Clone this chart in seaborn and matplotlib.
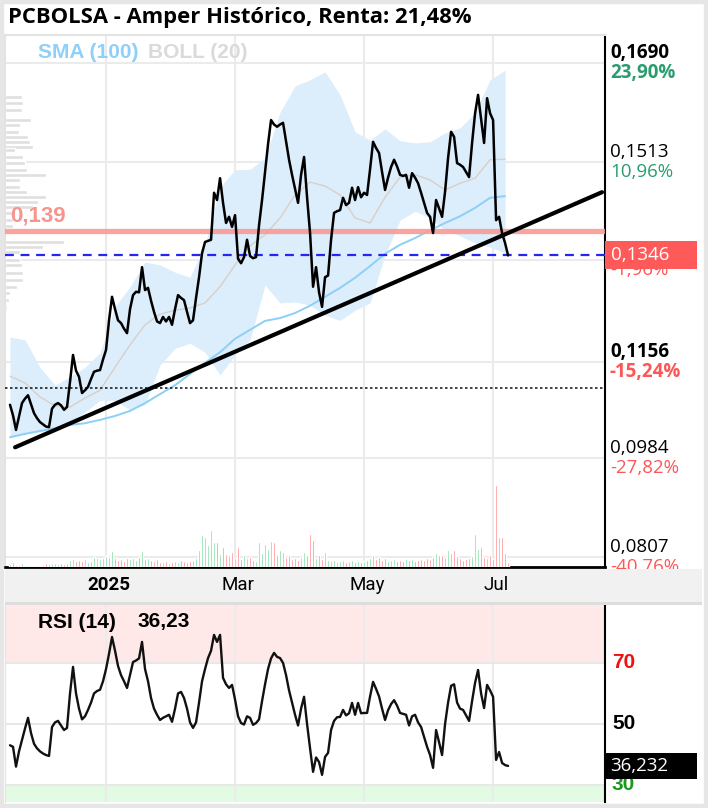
import numpy as np
import pandas as pd
import matplotlib
matplotlib.use("Agg")
import matplotlib.pyplot as plt
import seaborn as sns
from matplotlib.patches import Rectangle
from matplotlib.transforms import blended_transform_factory
from matplotlib import font_manager as fm

# Daily close, one value per session starting 18 Nov 2024
price = [
    0.1079, 0.1060, 0.1034, 0.1058, 0.1082, 0.1090, 0.1096, 0.1080, 0.1064, 0.1055,
    0.1048, 0.1044, 0.1040, 0.1039, 0.1072, 0.1079, 0.1082, 0.1078, 0.1070, 0.1075,
    0.1120, 0.1168, 0.1140, 0.1129, 0.1100, 0.1105, 0.1111, 0.1125, 0.1138, 0.1140,
    0.1141, 0.1160, 0.1177, 0.1230, 0.1272, 0.1250, 0.1230, 0.1225, 0.1215, 0.1207,
    0.1250, 0.1275, 0.1281, 0.1280, 0.1325, 0.1284, 0.1288, 0.1265, 0.1245, 0.1228,
    0.1225, 0.1236, 0.1228, 0.1236, 0.1222, 0.1250, 0.1275, 0.1270, 0.1266, 0.1245,
    0.1225, 0.1230, 0.1270, 0.1307, 0.1350, 0.1370, 0.1372, 0.1374, 0.1458, 0.1445,
    0.1484, 0.1440, 0.1404, 0.1415, 0.1397, 0.1418, 0.1340, 0.1332, 0.1343, 0.1374,
    0.1345, 0.1341, 0.1343, 0.1400, 0.1445, 0.1495, 0.1545, 0.1588, 0.1580, 0.1576,
    0.1580, 0.1583, 0.1550, 0.1517, 0.1490, 0.1465, 0.1440, 0.1490, 0.1522, 0.1450,
    0.1386, 0.1290, 0.1325, 0.1280, 0.1254, 0.1307, 0.1310, 0.1374, 0.1422, 0.1425,
    0.1427, 0.1449, 0.1436, 0.1440, 0.1467, 0.1445, 0.1468, 0.1450, 0.1458, 0.1454,
    0.1500, 0.1549, 0.1538, 0.1529, 0.1495, 0.1463, 0.1485, 0.1504, 0.1517, 0.1505,
    0.1490, 0.1488, 0.1490, 0.1467, 0.1493, 0.1485, 0.1475, 0.1458, 0.1440, 0.1422,
    0.1415, 0.1386, 0.1445, 0.1430, 0.1415, 0.1460, 0.1520, 0.1567, 0.1558, 0.1511,
    0.1508, 0.1504, 0.1495, 0.1486, 0.1547, 0.1600, 0.1633, 0.1590, 0.1547, 0.1627,
    0.1600, 0.1588, 0.1409, 0.1415, 0.1386, 0.1368, 0.1346,
]

rsi = [
    43.0, 42.5, 36.0, 41.0, 44.8, 48.5, 52.0, 47.0, 43.5, 42.0,
    41.0, 40.3, 39.8, 39.5, 49.0, 50.5, 51.0, 49.5, 48.0, 48.7,
    60.0, 68.7, 60.0, 55.0, 51.5, 52.5, 54.6, 57.0, 60.0, 60.8,
    61.2, 64.0, 68.0, 73.0, 78.5, 74.0, 69.0, 66.0, 64.0, 61.8,
    66.0, 70.3, 70.8, 71.5, 76.9, 68.0, 64.0, 58.5, 55.0, 53.0,
    51.3, 52.0, 52.5, 53.0, 50.7, 55.0, 60.0, 60.5, 58.5, 55.0,
    50.5, 48.7, 50.5, 57.0, 64.0, 68.0, 71.6, 74.0, 79.2, 76.9,
    79.2, 65.1, 63.0, 61.8, 62.8, 58.0, 52.5, 50.3, 49.8, 52.5,
    52.0, 49.7, 50.3, 51.5, 57.5, 63.0, 68.0, 71.5, 73.3, 72.0,
    71.6, 70.0, 66.0, 61.0, 57.0, 53.0, 49.5, 55.0, 58.9, 50.0,
    42.0, 34.3, 39.0, 37.5, 33.3, 39.2, 40.5, 48.0, 51.0, 52.2,
    52.3, 54.6, 52.8, 53.5, 56.9, 53.0, 56.9, 53.5, 53.6, 53.6,
    59.0, 63.8, 61.5, 59.0, 55.0, 51.3, 54.5, 56.5, 57.8, 56.0,
    53.6, 53.3, 53.0, 49.5, 52.5, 53.0, 50.5, 49.0, 45.8, 42.5,
    39.8, 35.6, 48.0, 44.0, 39.8, 50.0, 57.0, 62.5, 63.0, 57.0,
    55.0, 54.6, 52.8, 51.0, 57.5, 63.5, 67.7, 60.0, 55.2, 62.8,
    61.0, 58.9, 38.2, 40.8, 37.2, 36.5, 36.23,
]

volume = [
    3, 5, 2, 2, 4, 2, 2, 1, 1, 1,
    1, 2, 4, 3, 4, 4, 3, 4, 3, 4,
    7, 8, 6, 7, 6, 8, 5, 6, 10, 9,
    8, 9, 11, 10, 16, 9, 7, 8, 6, 9,
    8, 9, 7, 10, 16, 8, 9, 7, 6, 8,
    5, 5, 6, 4, 5, 6, 5, 7, 6, 5,
    6, 7, 9, 17, 32, 30, 22, 37, 25, 25,
    13, 20, 13, 12, 15, 9, 20, 8, 12, 9,
    10, 7, 6, 25, 14, 23, 18, 26, 25, 12,
    17, 15, 10, 12, 8, 9, 7, 10, 15, 12,
    33, 27, 9, 12, 8, 15, 7, 6, 7, 5,
    6, 7, 5, 6, 7, 5, 6, 5, 6, 7,
    9, 12, 8, 10, 7, 9, 6, 7, 8, 6,
    7, 6, 8, 7, 8, 6, 7, 8, 7, 9,
    8, 10, 14, 12, 12, 10, 17, 14, 17, 11,
    9, 7, 8, 9, 11, 33, 18, 20, 10, 9,
    12, 8, 82, 30, 30, 14, 5,
]

# indicators read every 5 sessions
ind_step = 5
sma100 = [0.1021, 0.1027, 0.1032, 0.1037, 0.1043, 0.1046, 0.1052, 0.1059, 0.1068, 0.1082,
          0.1098, 0.1114, 0.1134, 0.1154, 0.1173, 0.1197, 0.1213, 0.1229, 0.1234, 0.1243,
          0.1256, 0.1272, 0.1288, 0.1306, 0.1327, 0.1349, 0.1365, 0.1377, 0.1391, 0.1404,
          0.1416, 0.1431, 0.1449, 0.1452]
boll_up = [0.1200, 0.1195, 0.1146, 0.1114, 0.1129, 0.1146, 0.1172, 0.1254, 0.1290, 0.1334,
           0.1329, 0.1316, 0.1307, 0.1365, 0.1468, 0.1499, 0.1500, 0.1520, 0.1602, 0.1649,
           0.1660, 0.1674, 0.1633, 0.1567, 0.1552, 0.1572, 0.1551, 0.1547, 0.1549, 0.1565,
           0.1574, 0.1601, 0.1660, 0.1677]
boll_mid = [0.1130, 0.1118, 0.1093, 0.1077, 0.1075, 0.1091, 0.1105, 0.1146, 0.1186, 0.1222,
            0.1241, 0.1248, 0.1252, 0.1261, 0.1290, 0.1329, 0.1363, 0.1383, 0.1413, 0.1454,
            0.1477, 0.1470, 0.1454, 0.1413, 0.1404, 0.1450, 0.1486, 0.1490, 0.1481, 0.1463,
            0.1475, 0.1484, 0.1517, 0.1518]
boll_low = [0.1020, 0.1027, 0.1034, 0.1039, 0.1048, 0.1066, 0.1087, 0.1087, 0.1070, 0.1079,
            0.1150, 0.1180, 0.1189, 0.1173, 0.1132, 0.1168, 0.1195, 0.1293, 0.1261, 0.1263,
            0.1257, 0.1239, 0.1230, 0.1248, 0.1261, 0.1347, 0.1409, 0.1425, 0.1413, 0.1391,
            0.1381, 0.1368, 0.1361, 0.1350]

# volume profile on the left edge
vp_price = [0.1629, 0.1618, 0.1606, 0.1588, 0.1579, 0.1567, 0.1558, 0.1549, 0.1540, 0.1534,
            0.1522, 0.1511, 0.1499, 0.1490, 0.1481, 0.1468, 0.1459, 0.1450, 0.1441, 0.1433,
            0.1422, 0.1409, 0.1399, 0.1370, 0.1361, 0.1352, 0.1338, 0.1329, 0.1315, 0.1302,
            0.1289, 0.1279, 0.1266, 0.1254]
vp_vol = [17, 18, 17, 26, 15, 14, 23, 25, 28, 10, 18, 20, 22, 41, 15, 15, 22, 41, 33, 28,
          8, 8, 8, 59, 38, 15, 15, 17, 18, 18, 12, 5, 4, 2]

# trend line (session index, price) and horizontal levels
trend_x = [1.7, 197.3]
trend_y = [0.1003, 0.1459]
resist = 0.139
support = 0.1109
last_price = 0.1346
last_rsi = 36.232

levels = [0.1690, 0.1513, 0.1337, 0.1156, 0.0984, 0.0807]
level_labels = ["0,1690", "0,1513", "0,1337", "0,1156", "0,0984", "0,0807"]
level_pcts = ["23,90%", "10,96%", "-1,96%", "-15,24%", "-27,82%", "-40,76%"]
level_bold = [True, False, False, True, False, False]
month_labels = ["2025", "Mar", "May", "Jul"]
title = "PCBOLSA - Amper Histórico, Renta: 21,48%"


def has_bold(fam):
    try:
        path = fm.findfont(fm.FontProperties(family=fam, weight='bold'), fallback_to_default=False)
    except Exception:
        return False
    return 'bold' in path.lower()


sans = next((f for f in ['Noto Sans', 'Open Sans', 'Roboto', 'Lato'] if has_bold(f)), 'DejaVu Sans')
arial = 'Liberation Sans'

sns.set_style("white")
plt.rcParams['font.family'] = [sans, 'DejaVu Sans']
plt.rcParams['text.color'] = 'black'

n = len(price)
x = np.arange(n)
dates = pd.bdate_range("2024-11-18", periods=n)
tick_pos = [i for i in range(1, n)
            if dates[i].month != dates[i - 1].month and dates[i].month in (1, 3, 5, 7)]
ind_x = np.arange(0, n, ind_step)

W, H = 708, 808
fig = plt.figure(figsize=(W / 100, H / 100), dpi=100)
fig.patch.set_facecolor('white')
ax = fig.add_axes([5 / W, 1 - 567 / H, 600 / W, 532 / H])
ax_rsi = fig.add_axes([5 / W, 1 - 802 / H, 600 / W, 197 / H])

xlim = (-1.67, 198.3)
ylim = (0.0789, 0.1740)
ax.set_xlim(xlim)
ax.set_ylim(ylim)
px = (ylim[1] - ylim[0]) / 532

# grid
for p in tick_pos:
    ax.axvline(p, color='#ebebeb', lw=1.5, zorder=0)
for lv in levels:
    ax.axhline(lv, color='#ebebeb', lw=1.5, zorder=0)

# bollinger + sma
ax.fill_between(ind_x, boll_low, boll_up, color='#dcedfb', lw=0, zorder=1)
sns.lineplot(x=ind_x, y=boll_mid, ax=ax, color='#d8cfc9', lw=1.0, zorder=2)
sns.lineplot(x=ind_x, y=sma100, ax=ax, color='#8dcff7', lw=1.4, zorder=2)

# volume profile
ax.barh(vp_price, np.array(vp_vol) / 3, height=0.0007, left=xlim[0],
        color='#dfdfdf', zorder=1.5)

# levels
ax.axhline(resist, color='#f89b95', lw=3.8, alpha=0.9, zorder=3)
ax.axhline(last_price, color='#2626f0', lw=1.6, ls=(0, (4, 3)), zorder=3)
ax.axhline(support, color='#222222', lw=1.2, ls=(0, (1.5, 1.5)), zorder=3)
ax.annotate("0,139", xy=(0, resist), xycoords=ax.get_yaxis_transform(),
            xytext=(4, 3), textcoords='offset points', va='bottom', ha='left',
            color='#f7948d', fontsize=16, fontweight='bold', family=arial, zorder=4)

# price and trend
sns.lineplot(x=x, y=price, ax=ax, color='black', lw=1.8, zorder=4)
sns.lineplot(x=trend_x, y=trend_y, ax=ax, color='black', lw=3, zorder=5)

# volume bars
axv = ax.twinx()
vol_colors = ['#6fdc96' if i == 0 or price[i] >= price[i - 1] else '#ff7d7d' for i in range(n)]
axv.bar(x, volume, width=0.8, color=vol_colors)
axv.set_ylim(0, max(volume) * 532 / 82)
axv.set_xlim(xlim)
axv.axis('off')

# axes styling
ax.set_xlabel('')
ax.set_ylabel('')
ax.set_yticks([])
ax.set_xticks([])
for s in ['top', 'left']:
    ax.spines[s].set_color('#e3e3e3')
    ax.spines[s].set_linewidth(1.5)
ax.spines['right'].set_color('black')
ax.spines['right'].set_linewidth(1.5)
ax.spines['bottom'].set_color('black')
ax.spines['bottom'].set_linewidth(2)

# right price scale
ytr = ax.get_yaxis_transform()
for lv, lab, pct, b in zip(levels, level_labels, level_pcts, level_bold):
    w = 'bold' if b else 'normal'
    ax.annotate(lab, xy=(1, lv), xycoords=ytr, xytext=(3.6, 7.2), textcoords='offset points',
                ha='left', va='center', fontsize=13.5, fontweight=w, color='black',
                annotation_clip=False)
    ax.annotate(pct, xy=(1, lv), xycoords=ytr, xytext=(3.6, -7.2), textcoords='offset points',
                ha='left', va='center', fontsize=13.5, fontweight=w,
                color='#2a9d6f' if not pct.startswith('-') else '#ff5555',
                annotation_clip=False)
ax.add_patch(Rectangle((1.0, last_price - 14 * px), 92 / 600, 28 * px, transform=ytr,
                       facecolor='#ff5a5a', edgecolor='none', clip_on=False, zorder=6))
ax.annotate(f"{last_price:.4f}".replace('.', ','), xy=(1, last_price), xycoords=ytr,
            xytext=(4, 0), textcoords='offset points', ha='left', va='center',
            fontsize=13.5, color='white', annotation_clip=False, zorder=7)

# RSI panel
rlim = (24.4, 89)
ax_rsi.set_xlim(xlim)
ax_rsi.set_ylim(rlim)
rpx = (rlim[1] - rlim[0]) / 197
ax_rsi.axhspan(70, rlim[1], color='#ffe8e8', lw=0, zorder=0)
ax_rsi.axhspan(rlim[0], 30, color='#e2fbe2', lw=0, zorder=0)
for p in tick_pos:
    ax_rsi.axvline(p, color='#ebebeb', lw=1.5, zorder=0.5)
for lv in [70, 50, 30]:
    ax_rsi.axhline(lv, color='#e8e8e8', lw=1.5, zorder=0.5)
sns.lineplot(x=x, y=rsi, ax=ax_rsi, color='#111111', lw=1.7, zorder=3)
ax_rsi.set_xticks([])
ax_rsi.set_yticks([])
ax_rsi.set_xlabel('')
ax_rsi.set_ylabel('')
ax_rsi.spines['right'].set_color('black')
ax_rsi.spines['right'].set_linewidth(1.5)
ax_rsi.spines['left'].set_color('#e3e3e3')
ax_rsi.spines['top'].set_visible(False)
ax_rsi.spines['bottom'].set_visible(False)

rtr = ax_rsi.get_yaxis_transform()
for lv, col in [(70, '#ee1111'), (50, 'black'), (30, '#1a9a1a')]:
    ax_rsi.annotate(str(lv), xy=(1, lv), xycoords=rtr, xytext=(5, 0), textcoords='offset points',
                    ha='left', va='center', fontsize=15, fontweight='bold',
                    family=arial, color=col, annotation_clip=False)
ax_rsi.add_patch(Rectangle((1.0, last_rsi - 13 * rpx), 92 / 600, 26 * rpx, transform=rtr,
                           facecolor='black', edgecolor='none', clip_on=False, zorder=6))
ax_rsi.annotate(f"{last_rsi:.3f}".replace('.', ','), xy=(1, last_rsi), xycoords=rtr,
                xytext=(4, 0), textcoords='offset points', ha='left', va='center',
                fontsize=13.5, color='white', annotation_clip=False, zorder=7)

# figure-level texts and bands
fig.text(8 / W, 1 - 18 / H, title, fontsize=15.8, fontweight='bold', va='center', ha='left')
fig.text(38 / W, 1 - 52 / H, "SMA (100)", fontsize=15, fontweight='bold', color='#8fd0f8',
         family=arial, va='center')
fig.text(148 / W, 1 - 52 / H, "BOLL (20)", fontsize=15, fontweight='bold', color='#dadada',
         family=arial, va='center')
fig.text(38 / W, 1 - 622 / H, "RSI (14)", fontsize=15, fontweight='bold',
         family=arial, va='center')
fig.text(138 / W, 1 - 622 / H, f"{last_rsi:.2f}".replace('.', ','), fontsize=15,
         fontweight='bold', family=arial, va='center')

fig.add_artist(Rectangle((5 / W, 1 - 602 / H), 697 / W, 33 / H, transform=fig.transFigure,
                         facecolor='#f1f1f1', edgecolor='none', zorder=1))
fig.add_artist(Rectangle((5 / W, 1 - 605 / H), 697 / W, 3 / H, transform=fig.transFigure,
                         facecolor='#dddddd', edgecolor='none', zorder=1))
fig.add_artist(Rectangle((0, 0), 1, 1, transform=fig.transFigure, fill=False,
                         edgecolor='#e6e6e6', lw=6, zorder=10))

# month labels in the date band
btr = blended_transform_factory(ax.transData, fig.transFigure)
for p, lab in zip(tick_pos, month_labels):
    fig.text(p + 1, 1 - 585 / H, lab, transform=btr, ha='center', va='center',
             family='Roboto', fontsize=13.5,
             fontweight='bold' if lab.isdigit() else 'normal', zorder=5)

fig.savefig('out.png', dpi=100)
